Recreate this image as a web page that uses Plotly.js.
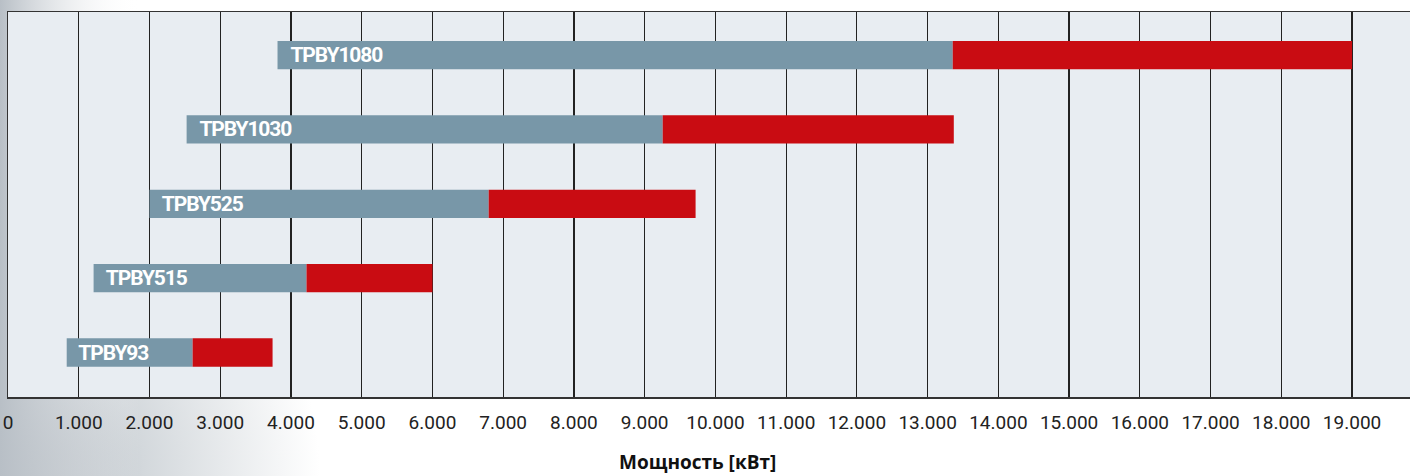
<!DOCTYPE html>
<html>
<head>
<meta charset="utf-8">
<script src="https://cdn.plot.ly/plotly-3.0.1.min.js"></script>
<style>
html,body{margin:0;padding:0;background:#fff;}
#chart{width:1410px;height:476px;}
.barlabel{letter-spacing:-1.1px;}
</style>
</head>
<body>
<div id="chart"></div>
<script>
// Data (kW)
const models     = ["TPBY93", "TPBY515", "TPBY525", "TPBY1030", "TPBY1080"];
const rangeStart = [830, 1210, 2000, 2525, 3810];
const rangeMid   = [2610, 4220, 6795, 9255, 13355];
const rangeEnd   = [3740, 6000, 9720, 13370, 19000];
const tickValues = [0, 1000, 2000, 3000, 4000, 5000, 6000, 7000, 8000, 9000, 10000, 11000, 12000, 13000, 14000, 15000, 16000, 17000, 18000, 19000];
const tickLabels = ["0", "1.000", "2.000", "3.000", "4.000", "5.000", "6.000", "7.000", "8.000", "9.000", "10.000", "11.000", "12.000", "13.000", "14.000", "15.000", "16.000", "17.000", "18.000", "19.000"];
const axisTitle  = "Мощность [кВт]";

const grayLen = models.map((m, i) => rangeMid[i] - rangeStart[i]);
const redLen  = models.map((m, i) => rangeEnd[i] - rangeMid[i]);

const traces = [
  {
    type: "bar", orientation: "h", y: models, x: grayLen, base: rangeStart,
    width: 0.381, marker: {color: "#7897a8", line: {width: 0}},
    hoverinfo: "skip", showlegend: false
  },
  {
    type: "bar", orientation: "h", y: models, x: redLen, base: rangeMid,
    width: 0.381, marker: {color: "#c90c12", line: {width: 0}},
    hoverinfo: "skip", showlegend: false
  }
];

const annotations = models.map((m, i) => ({
  x: rangeStart[i], y: m, xref: "x", yref: "y",
  text: '<b>' + m + '</b>', showarrow: false,
  xanchor: "left", yanchor: "middle", xshift: 6.5, yshift: 0,
  font: {family: "Roboto, sans-serif", size: 21, color: "#ffffff"}
}));
annotations.push({
  x: (697 - 8) / 1402, y: (397 - 462) / 385, xref: "paper", yref: "paper",
  text: "<b>" + axisTitle + "</b>", showarrow: false,
  xanchor: "center", yanchor: "middle",
  font: {family: "Open Sans, Noto Sans, sans-serif", size: 19, color: "#111111"}
});

const bgSvg = 'data:image/svg+xml;utf8,' + encodeURIComponent(
  '<svg xmlns="http://www.w3.org/2000/svg" width="1410" height="476">' +
  '<defs>' +
  '<radialGradient id="r" cx="0" cy="476" r="320" gradientUnits="userSpaceOnUse">' +
  '<stop offset="0" stop-color="#9aa3ac"/><stop offset="0.45" stop-color="#d3d8dc"/><stop offset="1" stop-color="#ffffff"/></radialGradient>' +
  '<linearGradient id="l" x1="0" y1="0" x2="1" y2="0">' +
  '<stop offset="0" stop-color="#b8bfc6"/><stop offset="1" stop-color="#ffffff" stop-opacity="0"/></linearGradient>' +
  '</defs>' +
  '<rect width="1410" height="476" fill="#ffffff"/>' +
  '<rect width="1410" height="476" fill="url(#r)"/>' +
  '<rect width="140" height="476" fill="url(#l)"/>' +
  '<rect x="8" y="12" width="1402" height="385" fill="#e8edf2"/>' +
  '</svg>');

const layout = {
  width: 1410, height: 476,
  margin: {l: 8, r: 0, t: 12, b: 79, pad: 0},
  paper_bgcolor: "rgba(0,0,0,0)",
  plot_bgcolor: "#e8edf2",
  barmode: "overlay",
  showlegend: false,
  images: [{
    source: bgSvg, xref: "paper", yref: "paper", x: -8/1402, y: 1 + 12/385,
    sizex: 1410/1402, sizey: 476/385, sizing: "stretch", xanchor: "left", yanchor: "top", layer: "below"
  }],
  xaxis: {
    range: [0, 19819], fixedrange: true,
    tickmode: "array", tickvals: tickValues, ticktext: tickLabels,
    showgrid: true, gridcolor: "#222222", gridwidth: 1.2,
    zeroline: false,
    showline: true, linecolor: "#333333", linewidth: 1.5, mirror: true,
    ticks: "", ticklabelstandoff: 8,
    tickfont: {family: "Roboto, sans-serif", size: 19, color: "#222222"}
  },
  yaxis: {
    type: "category", categoryorder: "array", categoryarray: models,
    range: [-0.598, 4.579], fixedrange: true,
    showticklabels: false, showgrid: false, zeroline: false, ticks: "",
    showline: true, linecolor: "#333333", linewidth: 1.5
  },
  annotations: annotations
};

Plotly.newPlot("chart", traces, layout, {displayModeBar: false, staticPlot: true}).then(function () {
  document.querySelectorAll(".annotation-text").forEach(function (t, i) {
    if (i < models.length) t.classList.add("barlabel");
  });
});
</script>
</body>
</html>
